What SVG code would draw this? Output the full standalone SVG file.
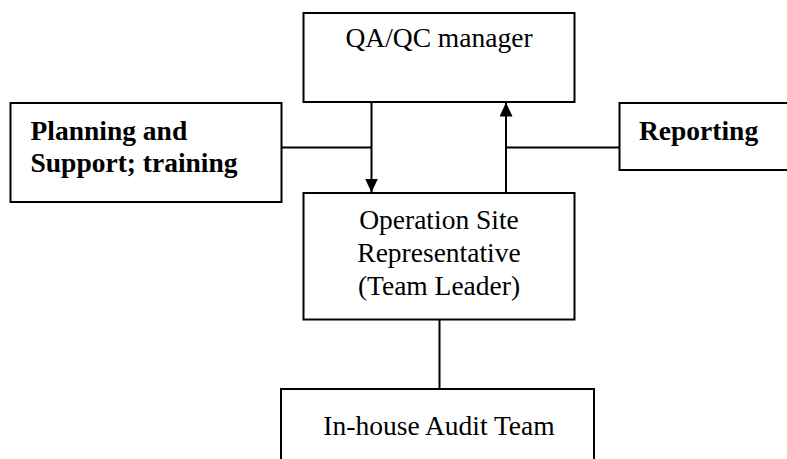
<svg xmlns="http://www.w3.org/2000/svg" width="787" height="459" viewBox="0 0 787 459">
  <style>
    .box { fill: #ffffff; stroke: #000000; stroke-width: 2; }
    .link { fill: none; stroke: #000000; stroke-width: 2; }
    .label { font-family: "Liberation Serif", "Times New Roman", serif; font-size: 27.5px; fill: #000000; }
    .mid { text-anchor: middle; }
    .bold { font-weight: bold; }
  </style>
  <defs>
    <marker id="head" viewBox="0 0 14 13" refX="14" refY="6.5" markerWidth="14" markerHeight="13" markerUnits="userSpaceOnUse" orient="auto">
      <path d="M0,0 L14,6.5 L0,13 Z" fill="#000000"/>
    </marker>
  </defs>

  <rect x="0" y="0" width="787" height="459" fill="#ffffff"/>

  <g id="connectors">
    <!-- manager down to site representative -->
    <line class="link" x1="371.5" y1="102" x2="371.5" y2="192.5" marker-end="url(#head)"/>
    <!-- planning feeds into the downward line -->
    <line class="link" x1="281.5" y1="147.5" x2="371.5" y2="147.5"/>
    <!-- site representative reports up to manager -->
    <line class="link" x1="506" y1="193" x2="506" y2="102.5" marker-end="url(#head)"/>
    <!-- reporting joins the upward line -->
    <line class="link" x1="506" y1="147.5" x2="619.5" y2="147.5"/>
    <!-- site representative to audit team -->
    <line class="link" x1="439.5" y1="319.5" x2="439.5" y2="389"/>
  </g>

  <g id="qaqc-manager">
    <rect class="box" x="303.5" y="13" width="271" height="89"/>
    <text class="label mid" x="439" y="47">QA/QC manager</text>
  </g>

  <g id="planning-support">
    <rect class="box" x="10.5" y="103" width="271" height="99"/>
    <text class="label bold" x="30.5" y="140">Planning and</text>
    <text class="label bold" x="30.5" y="171.5">Support; training</text>
  </g>

  <g id="reporting">
    <rect class="box" x="619.5" y="103" width="200" height="67"/>
    <text class="label bold" x="639" y="140">Reporting</text>
  </g>

  <g id="site-representative">
    <rect class="box" x="303.5" y="193" width="271" height="126.5"/>
    <text class="label mid" x="439" y="229">Operation Site</text>
    <text class="label mid" x="439" y="262">Representative</text>
    <text class="label mid" x="439" y="294.5">(Team Leader)</text>
  </g>

  <g id="audit-team">
    <rect class="box" x="281" y="389" width="313" height="100"/>
    <text class="label mid" x="439" y="434.5">In-house Audit Team</text>
  </g>
</svg>
